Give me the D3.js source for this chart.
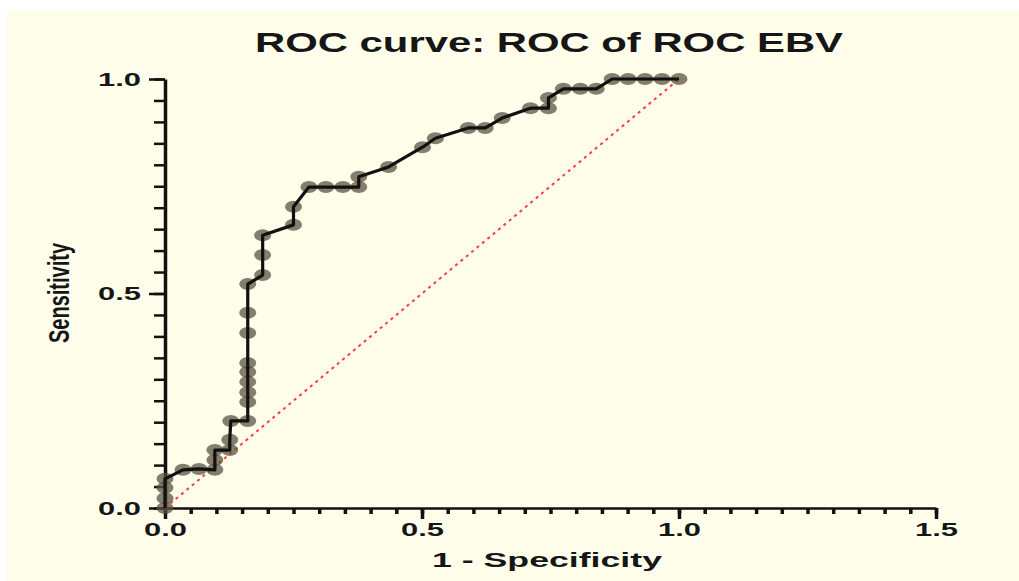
<!DOCTYPE html>
<html>
<head>
<meta charset="utf-8">
<script src="https://cdn.jsdelivr.net/npm/d3@7"></script>
<style>
  html, body { margin: 0; padding: 0; background: #fff; }
  svg { display: block; }
  text { font-family: "Liberation Sans", Arial, sans-serif; font-weight: bold; fill: #161616; }
</style>
</head>
<body>
<div id="chart"></div>
<script>
'use strict';

// ROC points (1 - specificity, sensitivity)
const fpr = [0, 0, 0, 0, 0.035, 0.066, 0.097, 0.097, 0.097, 0.126, 0.126, 0.128, 0.161,
    0.161, 0.161, 0.161, 0.161, 0.161, 0.161, 0.161, 0.161, 0.190, 0.190, 0.190,
    0.250, 0.250, 0.280, 0.313, 0.346, 0.377, 0.377, 0.435, 0.501, 0.526, 0.590,
    0.623, 0.656, 0.711, 0.746, 0.746, 0.775, 0.808, 0.839, 0.870, 0.901, 0.934,
    0.967, 1.0];
const tpr = [0, 0.023, 0.047, 0.068, 0.089, 0.091, 0.089, 0.112, 0.135, 0.135, 0.159, 0.203,
    0.203, 0.247, 0.270, 0.294, 0.317, 0.338, 0.408, 0.455, 0.522, 0.543, 0.590,
    0.636, 0.660, 0.702, 0.748, 0.748, 0.748, 0.748, 0.772, 0.795, 0.841, 0.862,
    0.886, 0.886, 0.909, 0.932, 0.932, 0.956, 0.977, 0.977, 0.977, 1.0, 1.0, 1.0,
    1.0, 1.0];

// chance line
const refLine = [[0, 0], [1, 1]];

const xMajor = [0, 0.5, 1.0, 1.5];
const yMajor = [0, 0.5, 1.0];
const xMinor = d3.range(0, 1.5001, 0.05);
const yMinor = d3.range(0, 1.0001, 0.05);

const title = "ROC curve: ROC of ROC EBV";
const xTitle = "1 - Specificity";
const yTitle = "Sensitivity";

const width = 1019, height = 581;

const svg = d3.select("#chart").append("svg")
    .attr("width", width)
    .attr("height", height);

// cream panel, with a thin white strip on top and left
svg.append("rect")
    .attr("x", 6).attr("y", 11)
    .attr("width", width - 6).attr("height", height - 11)
    .attr("fill", "#fffeea");

const x = d3.scaleLinear().domain([0, 1.5]).range([165, 936]);
const y = d3.scaleLinear().domain([0, 1]).range([508, 79]);

const fmt = d3.format(".1f");

// stretch the tick labels a bit, the picture is wider than it is tall
function stretch(sel, len){
    sel.selectAll("text")
        .attr("textLength", len)
        .attr("lengthAdjust", "spacingAndGlyphs");
}

// y axis: minor ticks, then majors with labels
svg.append("g")
    .attr("transform", `translate(${x(0)},0)`)
    .call(d3.axisLeft(y).tickValues(yMinor).tickSize(11).tickSizeOuter(0).tickFormat(""))
    .call(g => g.select(".domain").attr("stroke-width", 3.5))
    .call(g => g.selectAll(".tick line").attr("stroke-width", 2.5));

svg.append("g")
    .attr("transform", `translate(${x(0)},0)`)
    .call(d3.axisLeft(y).tickValues(yMajor).tickSize(16).tickSizeOuter(0).tickFormat(fmt).tickPadding(8))
    .call(g => g.select(".domain").remove())
    .call(g => g.selectAll(".tick line").attr("stroke-width", 2.5))
    .call(g => g.selectAll("text").style("font-size", "19px"))
    .call(g => stretch(g, 43));

// x axis
svg.append("g")
    .attr("transform", `translate(0,${y(0)})`)
    .call(d3.axisBottom(x).tickValues(xMinor).tickSize(6).tickSizeOuter(0).tickFormat(""))
    .call(g => g.select(".domain").attr("stroke-width", 2.5))
    .call(g => g.selectAll(".tick line").attr("stroke-width", 3.5));

svg.append("g")
    .attr("transform", `translate(0,${y(0)})`)
    .call(d3.axisBottom(x).tickValues(xMajor).tickSize(11).tickSizeOuter(0).tickFormat(fmt).tickPadding(4))
    .call(g => g.select(".domain").remove())
    .call(g => g.selectAll(".tick line").attr("stroke-width", 3.5))
    .call(g => g.selectAll("text").style("font-size", "19px"))
    .call(g => stretch(g, 43));

svg.selectAll(".domain, .tick line").attr("stroke", "#111");

// dotted red diagonal
svg.append("path")
    .datum(refLine)
    .attr("d", d3.line().x(d => x(d[0])).y(d => y(d[1])))
    .attr("fill", "none")
    .attr("stroke", "#ff3b3b")
    .attr("stroke-width", 2)
    .attr("stroke-dasharray", "3,4");

const pts = fpr.map((v, i) => ({fx: v, tx: tpr[i]}));

// soft markers
const defs = svg.append("defs");
defs.append("filter").attr("id", "soft")
    .append("feGaussianBlur").attr("stdDeviation", 0.5);

svg.append("g")
    .attr("filter", "url(#soft)")
    .selectAll("ellipse")
    .data(pts)
    .join("ellipse")
    .attr("cx", d => x(d.fx))
    .attr("cy", d => y(d.tx))
    .attr("rx", 8.5)
    .attr("ry", 6)
    .attr("fill", "#5a5142")
    .attr("fill-opacity", 0.74);

svg.append("path")
    .datum(pts)
    .attr("d", d3.line().x(d => x(d.fx)).y(d => y(d.tx)))
    .attr("fill", "none")
    .attr("stroke", "#111")
    .attr("stroke-width", 3.2)
    .attr("stroke-linejoin", "round");

// titles
svg.append("text")
    .attr("x", 549).attr("y", 52)
    .attr("text-anchor", "middle")
    .style("font-size", "28px")
    .attr("textLength", 588)
    .attr("lengthAdjust", "spacingAndGlyphs")
    .text(title);

svg.append("text")
    .attr("x", 547).attr("y", 567)
    .attr("text-anchor", "middle")
    .style("font-size", "21px")
    .attr("textLength", 230)
    .attr("lengthAdjust", "spacingAndGlyphs")
    .text(xTitle);

svg.append("text")
    .attr("transform", "translate(69,293) scale(1.5,1) rotate(-90)")
    .attr("text-anchor", "middle")
    .style("font-size", "20px")
    .text(yTitle);
</script>
</body>
</html>
